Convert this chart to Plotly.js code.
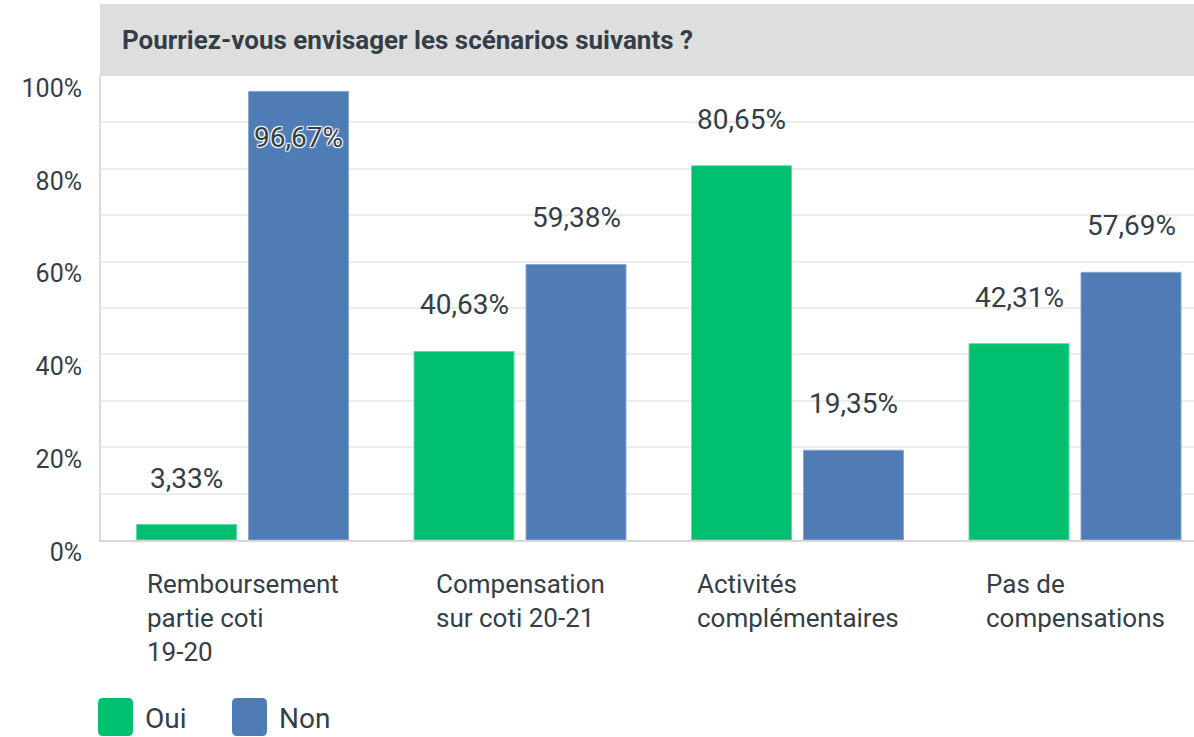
<!DOCTYPE html>
<html>
<head>
<meta charset="utf-8">
<script src="https://cdn.plot.ly/plotly-3.0.1.min.js"></script>
<style>html,body{margin:0;padding:0;background:#fff;}#chart{width:1194px;height:737px;}</style>
</head>
<body>
<div id="chart"></div>
<script>
// ---- data ----
const categories = ['Remboursement partie coti 19-20', 'Compensation sur coti 20-21', 'Activités complémentaires', 'Pas de compensations'];
const categoryLines = [
  ['Remboursement', 'partie coti', '19-20'],
  ['Compensation', 'sur coti 20-21'],
  ['Activités', 'complémentaires'],
  ['Pas de', 'compensations']
];
const seriesNames = ['Oui', 'Non'];
const ouiValues = [3.33, 40.63, 80.65, 42.31];
const nonValues = [96.67, 59.38, 19.35, 57.69];
const yTickVals = [0, 20, 40, 60, 80, 100];
const yTickText = ['0%', '20%', '40%', '60%', '80%', '100%'];
const titleText = 'Pourriez-vous envisager les scénarios suivants ?';

// ---- style ----
const colors = ['#00BF6F', '#507CB6'];
const textColor = '#333e48';
const FONT = 'Roboto, "Open Sans", sans-serif';
const W = 1194, H = 737;
const M = {l: 101, r: 0, t: 76, b: 197};
const pxPerCat = 277.5;
const bargap = 0.193, bargroupgap = 0.107;
const barOffsetPx = (1 - bargap) / 4 * pxPerCat;

const xRight = 3 + (W - M.r - (M.l + (0.5 + 0.01) * pxPerCat + 3 * pxPerCat)) / pxPerCat;

const traces = [ouiValues, nonValues].map((vals, i) => ({
  type: 'bar',
  name: seriesNames[i],
  x: categories,
  y: vals,
  marker: {color: colors[i], line: {color: i === 0 ? '#5fd9a3' : '#8aa6cc', width: 1}},
  hoverinfo: 'skip',
  showlegend: false
}));

const fmt = v => v.toFixed(2).replace('.', ',') + '%';
const annotations = [];
[ouiValues, nonValues].forEach((vals, i) => {
  vals.forEach((v, j) => {
    const inside = v + 10 > 100;
    annotations.push({
      x: categories[j], y: v, xref: 'x', yref: 'y',
      text: fmt(v), showarrow: false,
      xshift: (i === 0 ? -1 : 1) * barOffsetPx,
      yshift: inside ? -46.5 : 46.5,
      yanchor: 'middle', xanchor: 'center',
      font: inside
        ? {family: FONT, size: 28, color: textColor, shadow: '1px 1px 1px #fff, -1px -1px 1px #fff, 1px -1px 1px #fff, -1px 1px 1px #fff'}
        : {family: FONT, size: 28, color: textColor}
    });
  });
});
// x category labels: block centred, lines left aligned
categoryLines.forEach((lines, j) => {
  annotations.push({
    x: categories[j], y: 0, xref: 'x', yref: 'y',
    text: lines.join('<br>'), showarrow: false,
    align: 'left', xanchor: 'center', yanchor: 'top', yshift: -27,
    font: {family: FONT, size: 26, color: textColor}
  });
});
// legend text
const legendX = [0, 134];
seriesNames.forEach((n, i) => {
  annotations.push({
    x: 0, y: 0, xref: 'paper', yref: 'paper', text: n, showarrow: false,
    xanchor: 'left', yanchor: 'middle', xshift: legendX[i] + 42, yshift: -178,
    font: {family: FONT, size: 28, color: textColor}
  });
});

function roundRect(x0, x1, yT, yB, r) {
  return `M${x0 + r},${yT} L${x1 - r},${yT} Q${x1},${yT} ${x1},${yT - r} L${x1},${yB + r} Q${x1},${yB} ${x1 - r},${yB} L${x0 + r},${yB} Q${x0},${yB} ${x0},${yB + r} L${x0},${yT - r} Q${x0},${yT} ${x0 + r},${yT} Z`;
}

const shapes = [
  {type: 'rect', xref: 'paper', yref: 'paper', xsizemode: 'pixel', ysizemode: 'pixel',
   xanchor: 0, yanchor: 1, x0: -1, x1: W, y0: 0, y1: 72,
   fillcolor: '#dedede', line: {width: 0}, layer: 'below'}
];
seriesNames.forEach((n, i) => {
  shapes.push({type: 'path', xref: 'paper', yref: 'paper', xsizemode: 'pixel', ysizemode: 'pixel',
    xanchor: 0, yanchor: 0, path: roundRect(legendX[i] - 3, legendX[i] + 32, -158, -196, 5),
    fillcolor: colors[i], line: {width: 0}});
});

const layout = {
  width: W, height: H,
  margin: M,
  paper_bgcolor: '#fff', plot_bgcolor: '#fff',
  barmode: 'group', bargap: bargap, bargroupgap: bargroupgap,
  showlegend: false,
  title: {
    text: '<b>' + titleText + '</b>',
    x: 122 / W, xref: 'container', xanchor: 'left',
    y: 1 - 40 / H, yref: 'container', yanchor: 'middle',
    font: {family: FONT, size: 26, color: textColor}
  },
  xaxis: {
    type: 'category', range: [-0.51, xRight],
    showticklabels: false, ticks: '', showgrid: false,
    showline: true, linecolor: '#d6d6d6', linewidth: 2, zeroline: false, fixedrange: true
  },
  yaxis: {
    range: [0, 100], tickvals: yTickVals, ticktext: yTickText,
    ticklabelshift: 12, ticklabelstandoff: 12,
    showgrid: true, gridcolor: '#ececec', gridwidth: 2,
    minor: {dtick: 10, tick0: 0, showgrid: true, gridcolor: '#ececec', gridwidth: 2},
    showline: true, linecolor: '#dcdcdc', linewidth: 2, zeroline: false, ticks: '',
    tickfont: {family: FONT, size: 25, color: textColor}, fixedrange: true
  },
  annotations: annotations,
  shapes: shapes
};

Plotly.newPlot('chart', traces, layout, {displayModeBar: false, staticPlot: true});
</script>
</body>
</html>
